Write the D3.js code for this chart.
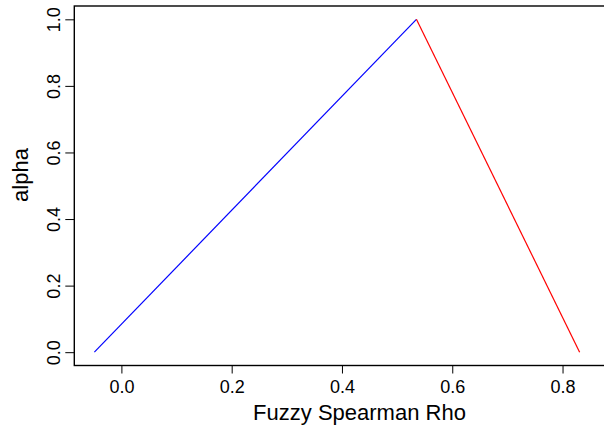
<!DOCTYPE html>
<html>
<head>
<meta charset="utf-8">
<script src="https://cdn.jsdelivr.net/npm/d3@7"></script>
<style>
  body { margin: 0; background: #fff; }
  text { font-family: "Liberation Sans", Arial, sans-serif; fill: #000; }
</style>
</head>
<body>
<script>
var width = 604, height = 427;

// data
var rhoValues = [-0.049, 0.535, 0.831];
var alphaValues = [0, 1, 0];
var segmentColors = ["blue", "red"];
var xTicks = [0.0, 0.2, 0.4, 0.6, 0.8];
var yTicks = [0.0, 0.2, 0.4, 0.6, 0.8, 1.0];

var svg = d3.select("body")
    .append("svg")
    .attr("width", width)
    .attr("height", height);

// plot region runs off the right side of the picture
var x = d3.scaleLinear()
    .domain([-0.0854, 0.949])
    .range([74.3, 644.7]);

var y = d3.scaleLinear()
    .domain([-0.04, 1.04])
    .range([365.5, 6]);

// box
svg.append("rect")
    .attr("x", x.range()[0])
    .attr("y", y.range()[1])
    .attr("width", x.range()[1] - x.range()[0])
    .attr("height", y.range()[0] - y.range()[1])
    .attr("fill", "none")
    .attr("stroke", "black")
    .attr("stroke-width", 1.4);

// x axis
var xAxis = svg.append("g")
    .attr("transform", "translate(0," + y.range()[0] + ")")
    .call(d3.axisBottom(x).tickValues(xTicks).tickFormat(d3.format(".1f")).tickSize(8).tickPadding(7));
xAxis.select(".domain").remove();
xAxis.selectAll("text").attr("font-size", 18).attr("font-family", "Liberation Sans, Arial, sans-serif");

// y axis
var yAxis = svg.append("g")
    .attr("transform", "translate(" + x.range()[0] + ",0)")
    .call(d3.axisLeft(y).tickValues(yTicks).tickFormat(d3.format(".1f")).tickSize(9));
yAxis.select(".domain").remove();
yAxis.selectAll("text")
    .attr("font-size", 18)
    .attr("font-family", "Liberation Sans, Arial, sans-serif")
    .attr("x", null).attr("dy", null)
    .attr("text-anchor", "middle")
    .attr("transform", "translate(-14,0) rotate(-90)");

// segments
for (var i = 0; i < rhoValues.length - 1; i++) {
    svg.append("line")
        .attr("x1", x(rhoValues[i]))
        .attr("y1", y(alphaValues[i]))
        .attr("x2", x(rhoValues[i + 1]))
        .attr("y2", y(alphaValues[i + 1]))
        .attr("stroke", segmentColors[i])
        .attr("stroke-width", 1.2);
}

// axis titles
svg.append("text")
    .attr("x", (x.range()[0] + x.range()[1]) / 2)
    .attr("y", 420)
    .attr("text-anchor", "middle")
    .attr("font-size", 22)
    .text("Fuzzy Spearman Rho");

svg.append("text")
    .attr("transform", "translate(28,175) rotate(-90)")
    .attr("text-anchor", "middle")
    .attr("font-size", 22)
    .text("alpha");
</script>
</body>
</html>
